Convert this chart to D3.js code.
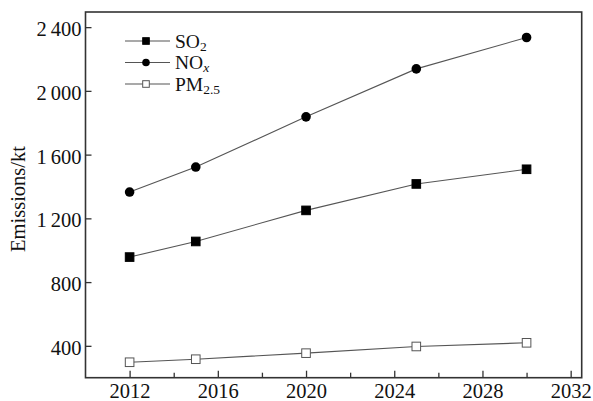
<!DOCTYPE html>
<html><head><meta charset="utf-8">
<script src="https://cdn.jsdelivr.net/npm/d3@7"></script>
<style>
html,body{margin:0;padding:0;background:#fff;}
text{font-family:"Liberation Serif","Times New Roman",serif;fill:#111;}
</style></head>
<body><svg id="c" width="593" height="401"></svg>
<script>
const years = [2012, 2015, 2020, 2025, 2030];
const so2 = [957, 1055, 1250, 1416, 1508];
const nox = [1365, 1522, 1837, 2138, 2335];
const pm25 = [297, 316, 354, 396, 419];
const yTicks = [400, 800, 1200, 1600, 2000, 2400];
const xTicks = [2012, 2016, 2020, 2024, 2028, 2032];
const xMinor = [2014, 2018, 2022, 2026, 2030];
const yLabel = "Emissions/kt";

const svg = d3.select("#c");
const L = 85.5, R = 581.7, T = 12, B = 377.7;
const x = d3.scaleLinear().domain([2010, 2032.5]).range([L, R]);
const y = d3.scaleLinear().domain([200, 2495]).range([B, T]);
const fmt = d => d3.format(",")(d).replace(",", "\u2009");

// frame
svg.append("rect").attr("x", L).attr("y", T).attr("width", R - L).attr("height", B - T)
  .attr("fill", "none").attr("stroke", "#333").attr("stroke-width", 1.6);

// y axis
const ya = svg.append("g").attr("transform", `translate(${L},0)`)
  .call(d3.axisRight(y).tickValues(yTicks).tickSize(6).tickFormat(fmt));
ya.select(".domain").remove();
ya.selectAll("line").attr("stroke", "#333").attr("stroke-width", 1.3);
ya.selectAll("text").attr("x", -4).attr("dy", "0.42em").attr("text-anchor", "end")
  .style("font-size", "20.5px").style("font-family", "Liberation Serif").attr("fill", "#111");

// x axis
const xa = svg.append("g").attr("transform", `translate(0,${B})`)
  .call(d3.axisTop(x).tickValues(xTicks).tickSize(7).tickFormat(d3.format("d")));
xa.select(".domain").remove();
xa.selectAll("line").attr("stroke", "#333").attr("stroke-width", 1.3);
xa.selectAll("text").attr("y", 20).attr("dy", "0").attr("text-anchor", "middle")
  .style("font-size", "20.5px").style("font-family", "Liberation Serif").attr("fill", "#111");
const xm = svg.append("g").attr("transform", `translate(0,${B})`)
  .call(d3.axisTop(x).tickValues(xMinor).tickSize(5).tickFormat(""));
xm.select(".domain").remove();
xm.selectAll("line").attr("stroke", "#333").attr("stroke-width", 1.3);

// y label
svg.append("text").attr("transform", "translate(25,199) rotate(-90)")
  .attr("text-anchor", "middle").style("font-size", "20.5px").text(yLabel);

const line = d3.line().x((d, i) => x(years[i])).y(d => y(d));
const series = [
  {vals: so2, shape: "sq", fill: "#000"},
  {vals: nox, shape: "ci", fill: "#000"},
  {vals: pm25, shape: "sq", fill: "#fff"}
];
series.forEach(s => {
  svg.append("path").datum(s.vals).attr("d", line).attr("fill", "none")
    .attr("stroke", "#555").attr("stroke-width", 1.1);
  const g = svg.append("g");
  s.vals.forEach((v, i) => {
    if (s.shape === "sq") {
      g.append("rect").attr("x", x(years[i]) - 4.3).attr("y", y(v) - 4.3)
        .attr("width", 8.6).attr("height", 8.6).attr("fill", s.fill)
        .attr("stroke", s.fill === "#fff" ? "#555" : "#000").attr("stroke-width", 1);
    } else {
      g.append("circle").attr("cx", x(years[i])).attr("cy", y(v)).attr("r", 4.8).attr("fill", "#000");
    }
  });
});

// legend
const legend = [
  {name: "SO", sub: "2", italic: false, shape: "sq", fill: "#000"},
  {name: "NO", sub: "x", italic: true, shape: "ci", fill: "#000"},
  {name: "PM", sub: "2.5", italic: false, shape: "sq", fill: "#fff"}
];
legend.forEach((d, i) => {
  const cy = 41 + i * 21.5;
  const g = svg.append("g");
  g.append("line").attr("x1", 125).attr("x2", 170).attr("y1", cy).attr("y2", cy)
    .attr("stroke", "#555").attr("stroke-width", 1.1);
  if (d.shape === "sq") {
    g.append("rect").attr("x", 146 - 3.3).attr("y", cy - 3.3).attr("width", 6.6).attr("height", 6.6)
      .attr("fill", d.fill).attr("stroke", d.fill === "#fff" ? "#555" : "#000").attr("stroke-width", 1);
  } else {
    g.append("circle").attr("cx", 146).attr("cy", cy).attr("r", 3.8).attr("fill", "#000");
  }
  const t = g.append("text").attr("x", 175).attr("y", cy + 6.5).style("font-size", "19.5px");
  t.append("tspan").text(d.name);
  t.append("tspan").attr("dy", 3).style("font-size", "13.5px")
    .style("font-style", d.italic ? "italic" : "normal").text(d.sub);
});
</script></body></html>
